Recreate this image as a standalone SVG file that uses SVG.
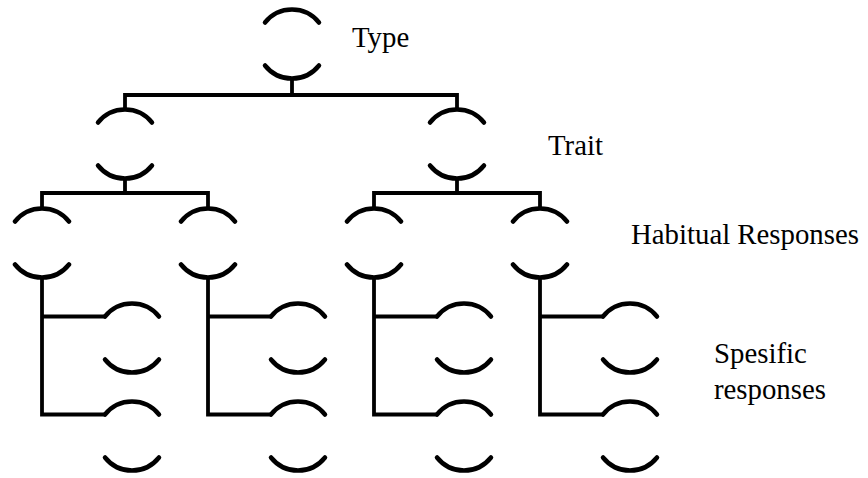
<svg xmlns="http://www.w3.org/2000/svg" xmlns:xlink="http://www.w3.org/1999/xlink" width="868" height="478" viewBox="0 0 868 478">
<style>
.arc{fill:none;stroke:#000;stroke-width:4.5;stroke-linecap:round}
.con{fill:none;stroke:#000;stroke-width:3.8;stroke-linejoin:miter}
</style>
<defs>
<path id="nd" class="arc" d="M-27,-21.5 A34.5,34.5 0 0 1 27,-21.5 M-27,21.5 A34.5,34.5 0 0 0 27,21.5"/>
</defs>
<rect width="868" height="478" fill="#fff"/>
<g id="connectors" class="con">
<path d="M292,78 V95 M125,109 V95 H457 V109"/>
<path d="M125,178 V193 M42,208 V193 H208 V208"/>
<path d="M457,178 V193 M374,208 V193 H540 V208"/>
<path d="M42,277 V414.5 H105 M42,316.5 H105"/>
<path d="M208,277 V414.5 H271 M208,316.5 H271"/>
<path d="M374,277 V414.5 H437 M374,316.5 H437"/>
<path d="M540,277 V414.5 H603 M540,316.5 H603"/>
</g>
<g id="type"><use xlink:href="#nd" x="292" y="44"/></g>
<g id="trait-1"><use xlink:href="#nd" x="125" y="144"/></g>
<g id="trait-2"><use xlink:href="#nd" x="457" y="144"/></g>
<g id="habit-1"><use xlink:href="#nd" x="42" y="243"/></g>
<g id="habit-2"><use xlink:href="#nd" x="208" y="243"/></g>
<g id="habit-3"><use xlink:href="#nd" x="374" y="243"/></g>
<g id="habit-4"><use xlink:href="#nd" x="540" y="243"/></g>
<g id="spec-1a"><use xlink:href="#nd" x="132" y="338"/></g>
<g id="spec-1b"><use xlink:href="#nd" x="132" y="436"/></g>
<g id="spec-2a"><use xlink:href="#nd" x="298" y="338"/></g>
<g id="spec-2b"><use xlink:href="#nd" x="298" y="436"/></g>
<g id="spec-3a"><use xlink:href="#nd" x="464" y="338"/></g>
<g id="spec-3b"><use xlink:href="#nd" x="464" y="436"/></g>
<g id="spec-4a"><use xlink:href="#nd" x="630" y="338"/></g>
<g id="spec-4b"><use xlink:href="#nd" x="630" y="436"/></g>
<g id="labels" font-family="'Liberation Serif', 'Times New Roman', 'DejaVu Serif', serif" font-size="28.8" fill="#000">
<text x="352" y="47">Type</text>
<text x="548" y="155">Trait</text>
<text x="631" y="244">Habitual Responses</text>
<text x="714" y="363">Spesific</text>
<text x="714" y="399">responses</text>
</g>
</svg>
